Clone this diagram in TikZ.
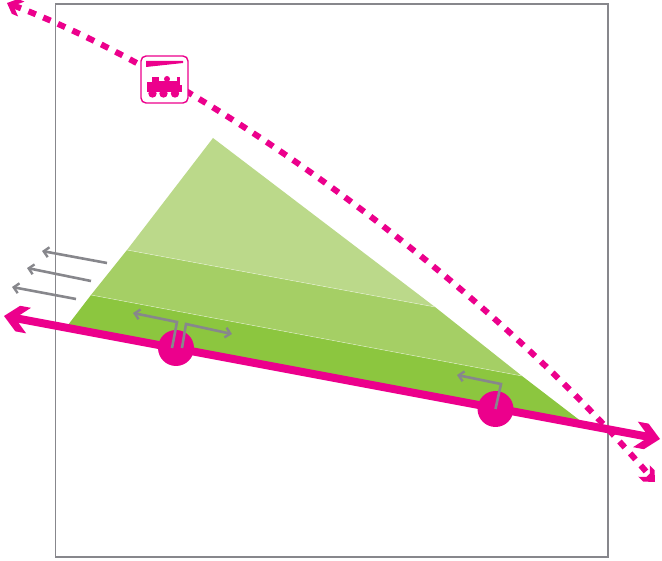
\documentclass[tikz,border=0pt]{standalone}
\usetikzlibrary{arrows.meta}
\definecolor{rail}{HTML}{EC008C}
\definecolor{gbottom}{HTML}{8CC63F}
\definecolor{gmiddle}{HTML}{A5CF65}
\definecolor{gtop}{HTML}{BBD98A}
\definecolor{arrowgray}{HTML}{87878C}
\tikzset{
	railline/.style={line width=8pt, color=rail, shorten >=15pt, shorten <=15pt},
	routeline/.style={line width=6pt, color=rail, dash pattern=on 8pt off 8pt, shorten >=7pt, shorten <=7pt},
	railhead/.pic={\fill[rail] (0,0) -- (14,-13) -- (25,-13) -- (15.5,-4) -- (15.5,4) -- (25,13) -- (14,13) -- cycle;},
	grayarrow/.style={line width=2.6pt, color=arrowgray, -{Straight Barb[length=5pt,width=10pt,line width=2.4pt]}},
	wheel/.style={circle, fill=rail, minimum size=36pt, inner sep=0pt},
	signbox/.style={draw=rail, fill=white, line width=1.4pt, rounded corners=5pt, minimum size=47pt, inner sep=0pt}
}
\begin{document}
\begin{tikzpicture}[x=1pt, y=-1pt]
	\useasboundingbox (0,0) rectangle (662,561);
	\draw[line width=1.4pt, color=arrowgray] (55.5,4) rectangle (608,557);
	\fill[gbottom] (68,325) -- (91,295) -- (522,376) -- (582,422) -- cycle;
	\fill[gmiddle] (91,295) -- (127,250) -- (435,307) -- (522,376) -- cycle;
	\fill[gtop] (127,250) -- (213,138) -- (435,307) -- cycle;
	\draw[white, opacity=0.5, line width=0.5pt] (91,295) -- (522,376);
	\draw[white, opacity=0.5, line width=0.5pt] (127,250) -- (435,307);
	\coordinate (routeL) at (7,3);
	\coordinate (routeR) at (655,482);
	\draw[routeline] (routeL) .. controls (215,82) and (490,288) .. (routeR);
	\path (routeL) pic[rotate=-23, scale=0.62] {railhead};
	\path (routeR) pic[rotate=135, scale=0.62] {railhead};
	\coordinate (railL) at (4,316);
	\coordinate (railR) at (660,439);
	\draw[railline] (railL) -- (railR);
	\path (railL) pic[rotate=-10.6] {railhead};
	\path (railR) pic[rotate=169.4] {railhead};
	\node[wheel] (wheelA) at (176,348) {};
	\node[wheel] (wheelB) at (495.5,409) {};
	\coordinate (pushA) at (107,263);
	\coordinate (pushB) at (91,281);
	\coordinate (pushC) at (76,299);
	\coordinate (tipA) at (42,251);
	\coordinate (tipB) at (27,268);
	\coordinate (tipC) at (12,287);
	\draw[grayarrow] (pushA) -- (tipA);
	\draw[grayarrow] (pushB) -- (tipB);
	\draw[grayarrow] (pushC) -- (tipC);
	\coordinate (forceAleft) at (133,313);
	\coordinate (forceAright) at (232,334);
	\coordinate (forceB) at (457,375);
	\draw[grayarrow] ([xshift=-4pt]wheelA.center) -- (177,322) -- (forceAleft);
	\draw[grayarrow] ([xshift=6pt]wheelA.center) -- (186,324) -- (forceAright);
	\draw[grayarrow] (wheelB.center) -- (501,384) -- (forceB);
	\node[signbox] (sign) at (164.5,79.5) {};
	\fill[rail] (146,61) -- (183,61) -- (183,63) -- (146,67) -- cycle;
	\fill[rail] (147,85) rectangle (182,92.5);
	\fill[rail] (147,82) rectangle (152,85);
	\fill[rail] (152,77) rectangle (159,85);
	\fill[rail] (159,81.5) rectangle (178,85);
	\fill[rail] (177,77) rectangle (180,85);
	\fill[rail] (167,79) circle (3pt);
	\fill[rail] (152.5,93.5) circle (4.2pt);
	\fill[rail] (163.5,93.5) circle (4.2pt);
	\fill[rail] (175,93.5) circle (4.2pt);
\end{tikzpicture}
\end{document}
